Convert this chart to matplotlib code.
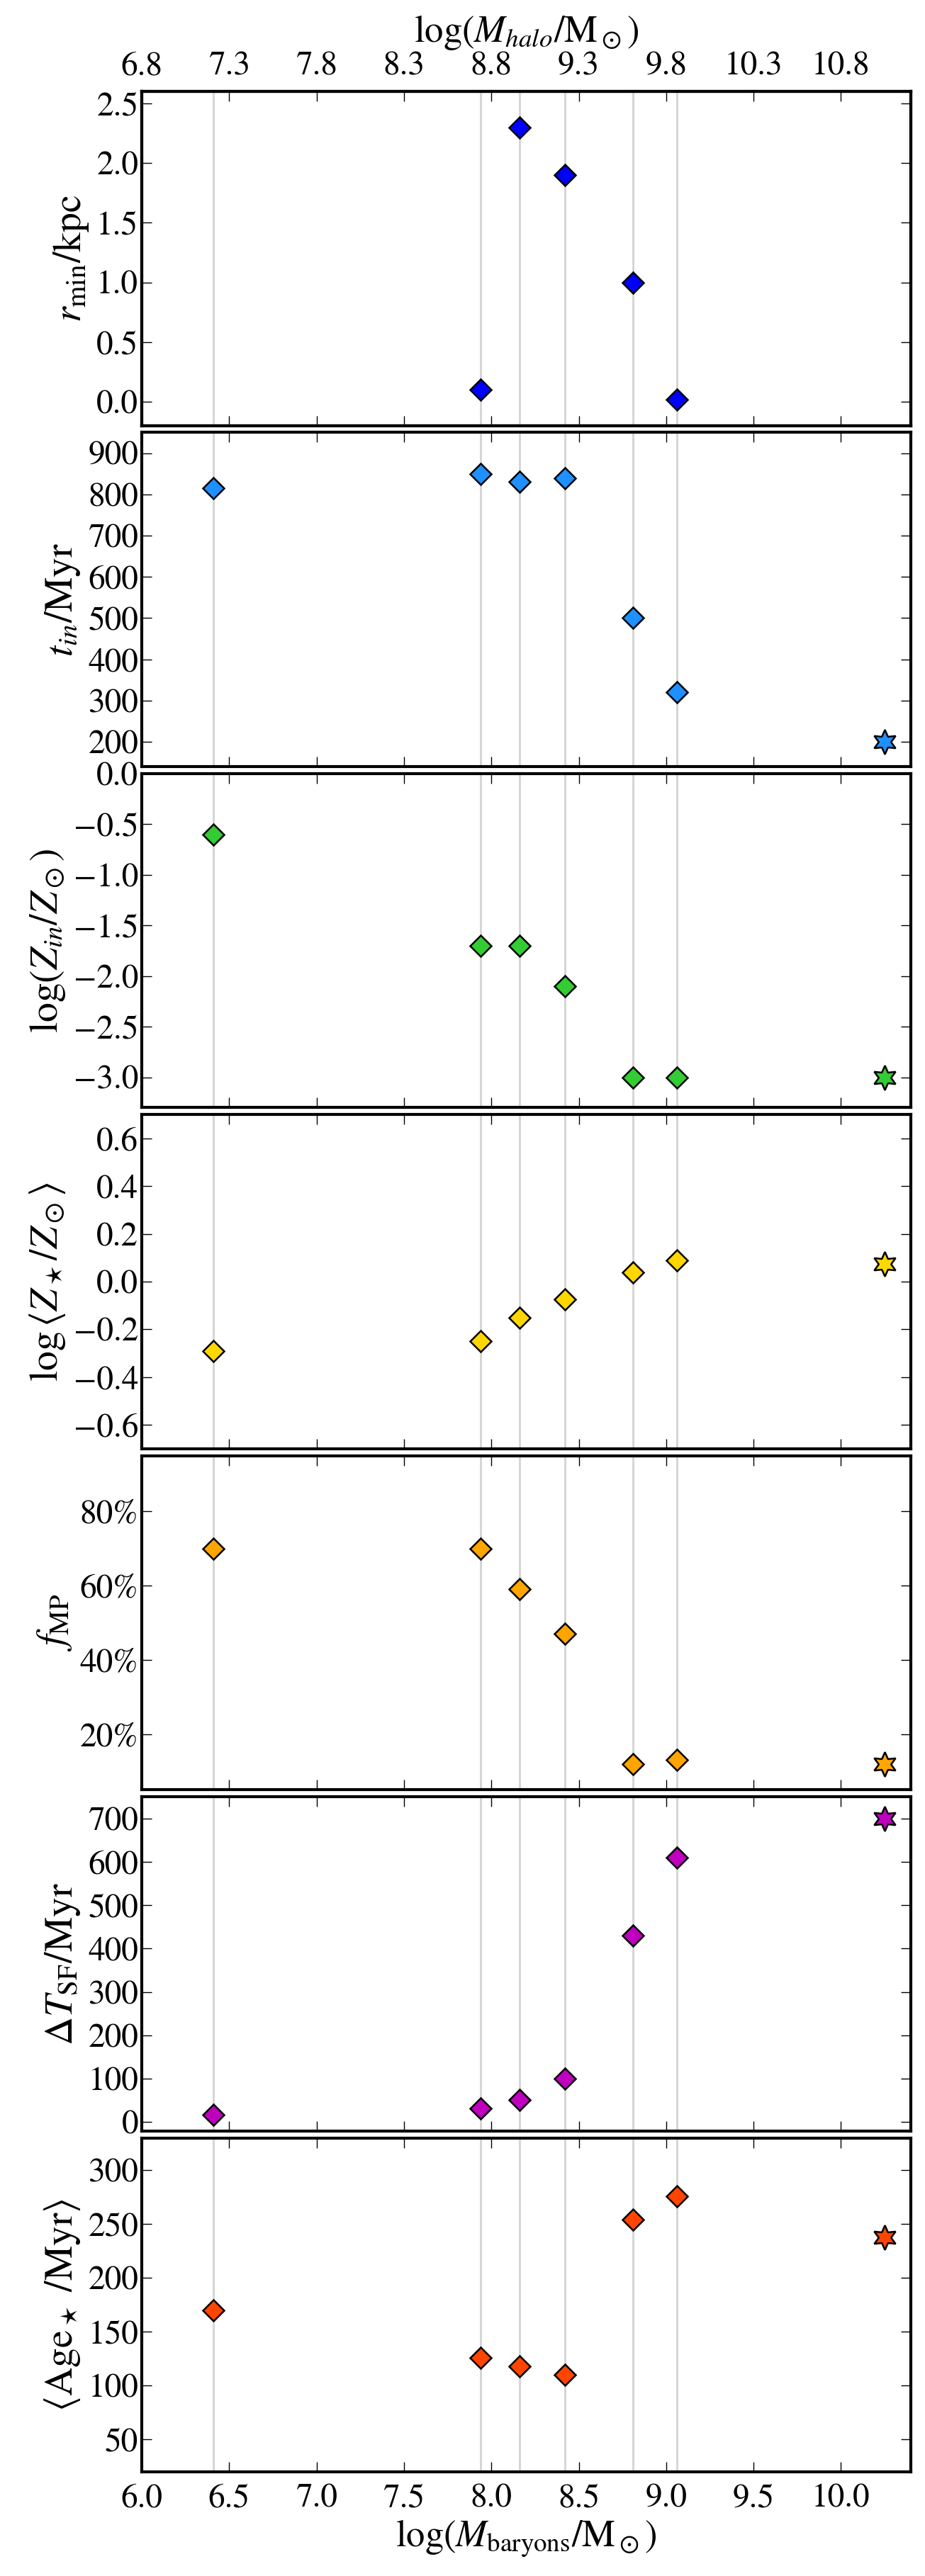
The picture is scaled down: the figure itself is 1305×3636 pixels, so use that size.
import numpy as np
import matplotlib
matplotlib.use('Agg')
import matplotlib.pyplot as plt
from matplotlib.ticker import MultipleLocator, FuncFormatter, PercentFormatter, FixedLocator, FixedFormatter

plt.rcParams['font.family'] = ['STIXGeneral', 'DejaVu Serif']
plt.rcParams['mathtext.fontset'] = 'stix'
plt.rcParams['axes.linewidth'] = 3
plt.rcParams['xtick.direction'] = 'in'
plt.rcParams['ytick.direction'] = 'in'
plt.rcParams['xtick.top'] = True
plt.rcParams['ytick.right'] = True
plt.rcParams['xtick.major.size'] = 10
plt.rcParams['ytick.major.size'] = 10
plt.rcParams['xtick.major.width'] = 1
plt.rcParams['ytick.major.width'] = 1
plt.rcParams['xtick.labelsize'] = 34
plt.rcParams['ytick.labelsize'] = 34

# galaxy baryonic masses (log) and the reference galaxy (star marker)
log_mbar = [6.41, 7.94, 8.16, 8.42, 8.81, 9.06]
log_mbar_ref = 10.25

r_min = [np.nan, 0.1, 2.3, 1.9, 1.0, 0.02]
t_in = [815, 850, 830, 840, 500, 320]
t_in_ref = 200
z_in = [-0.6, -1.7, -1.7, -2.1, -3.0, -3.0]
z_in_ref = -3.0
z_star = [-0.29, -0.25, -0.15, -0.075, 0.04, 0.09]
z_star_ref = 0.075
f_mp = [0.70, 0.70, 0.59, 0.47, 0.12, 0.13]
f_mp_ref = 0.12
dt_sf = [17, 31, 52, 101, 430, 610]
dt_sf_ref = 700
age_star = [170, 126, 118, 110, 254, 276]
age_star_ref = 238

bottom_ticks = [6.0, 6.5, 7.0, 7.5, 8.0, 8.5, 9.0, 9.5, 10.0]
halo_labels = ['6.8', '7.3', '7.8', '8.3', '8.8', '9.3', '9.8', '10.3', '10.8']

panels = [
    (r_min, None, r'$r_{\rm min}/{\rm kpc}$', 'blue', (-0.2, 2.6), 0.5, '%.1f'),
    (t_in, t_in_ref, r'$t_{in}/{\rm Myr}$', 'dodgerblue', (140, 950), 100, '%d'),
    (z_in, z_in_ref, r'$\log(Z_{in}/Z_\odot)$', 'limegreen', (-3.3, 0.0), 0.5, '%.1f'),
    (z_star, z_star_ref, r'$\log\langle Z_\star/Z_\odot\rangle$', 'gold', (-0.7, 0.7), 0.2, '%.1f'),
    (f_mp, f_mp_ref, r'$f_{\rm MP}$', 'orange', (0.05, 0.95), 0.2, 'pct'),
    (dt_sf, dt_sf_ref, r'$\Delta T_{\rm SF}/{\rm Myr}$', 'm', (-20, 750), 100, '%d'),
    (age_star, age_star_ref, r'$\langle {\rm Age}_\star\ /{\rm Myr}\rangle$', 'orangered', (20, 330), 50, '%d'),
]


def minus_fmt(fmt):
    return FuncFormatter(lambda v, pos: (fmt % (0.0 if abs(v) < 1e-9 else v)).replace('-', '\u2212'))


fig, axes = plt.subplots(7, 1, figsize=(13.05, 36.36), dpi=100, sharex=True)
fig.subplots_adjust(left=0.1533, right=0.9847, top=0.9645, bottom=0.0404, hspace=0.021)

for ax, (vals, ref, label, col, ylim, step, fmt) in zip(axes, panels):
    for xm in log_mbar:
        ax.axvline(xm, color='lightgray', lw=2, zorder=0)
    ax.plot(log_mbar, vals, 'D', color=col, ms=15, mec='k', mew=1.8, zorder=3)
    if ref is not None:
        ax.plot([log_mbar_ref], [ref], marker=(6, 1, 0), ls='none', color=col,
                ms=25, mec='k', mew=1.8, zorder=3)
    ax.set_ylim(ylim)
    ax.yaxis.set_major_locator(MultipleLocator(step))
    if fmt == 'pct':
        ax.yaxis.set_major_formatter(PercentFormatter(1.0, decimals=0))
    else:
        ax.yaxis.set_major_formatter(minus_fmt(fmt))
    ax.set_ylabel(label, fontsize=40, labelpad=6)
    ax.tick_params(axis='x', labelbottom=False)

axes[0].set_xlim(6.0, 10.4)
axes[0].set_xticks(bottom_ticks)
axes[-1].tick_params(axis='x', labelbottom=True, pad=12)
axes[-1].xaxis.set_major_formatter(minus_fmt('%.1f'))
axes[-1].set_xlabel(r'$\log(M_{\rm baryons}/{\rm M}_\odot)$', fontsize=38)

top = axes[0].twiny()
top.set_xlim(axes[0].get_xlim())
top.xaxis.set_major_locator(FixedLocator(bottom_ticks))
top.xaxis.set_major_formatter(FixedFormatter(halo_labels))
top.tick_params(axis='x', direction='in', length=10, pad=10)
top.set_xlabel(r'$\log(M_{halo}/{\rm M}_\odot)$', fontsize=38, labelpad=10)

fig.savefig('out.png', dpi=100)
